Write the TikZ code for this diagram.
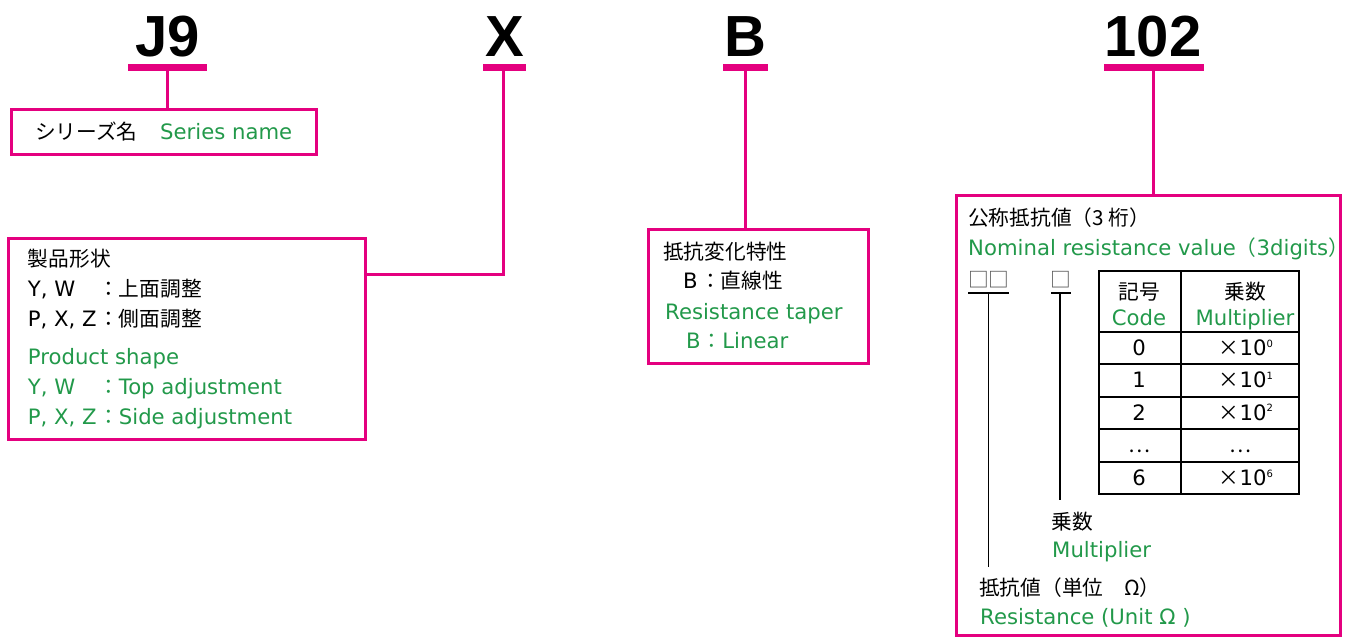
\documentclass[tikz,border=0pt]{standalone}
\usepackage{fontspec}
\setmainfont{DejaVu Sans}
\newfontfamily\jpf{Noto Sans CJK JP}
\newfontfamily\hdf{Liberation Sans}
\newcommand\J[1]{{\jpf\fontsize{20.7}{21}\selectfont #1}}
\newcommand\supr[1]{\raisebox{8.5pt}{\fontsize{10}{10}\selectfont #1}}
\definecolor{mag}{HTML}{E4007F}
\definecolor{grn}{HTML}{22994A}
\begin{document}
\begin{tikzpicture}[x=1pt,y=-1pt,
  hdr/.style={font=\hdf\bfseries\fontsize{58}{58}\selectfont, inner sep=0, anchor=base},
  bar/.style={fill=mag, inner sep=0, minimum height=7pt},
  frame/.style={draw=mag, line width=3pt, inner sep=0, fill=none},
  conn/.style={draw=mag, line width=3pt},
  txt/.style={font=\fontsize{21.2}{21}\selectfont, inner sep=0, anchor=west, text height=18pt, text depth=3pt},
  gtxt/.style={txt, text=grn},
  ctr/.style={anchor=center},
  tbl/.style={draw=black, line width=1.6pt},
  thin/.style={draw=black, line width=1.5pt}
]
\useasboundingbox (0,0) rectangle (1352,639);

% headers
\node[hdr] (hJ) at (168,57) {J9};
\node[hdr] (hX) at (505,57) {X};
\node[hdr] (hB) at (745,57) {B};
\node[hdr] (h1) at (1153,57) {102};
\node[bar, minimum width=79pt] (bJ) at (167.5,67.5) {};
\node[bar, minimum width=43pt] (bX) at (504.5,67.5) {};
\node[bar, minimum width=45pt] (bB) at (745.5,67.5) {};
\node[bar, minimum width=100pt] (b1) at (1153.5,67.5) {};

% frames
\node[frame, minimum width=305pt, minimum height=45pt] (sbox) at (164,132) {};
\node[frame, minimum width=357pt, minimum height=200.4pt] (pbox) at (186.7,339) {};
\node[frame, minimum width=219.7pt, minimum height=134pt] (tbox) at (758.7,296.5) {};
\node[frame, minimum width=384pt, minimum height=440pt] (nbox) at (1148.5,415.5) {};

% connectors
\draw[conn] (bJ.south) -- (bJ.south |- sbox.north);
\coordinate (xk) at (503.5,274);
\draw[conn, line join=miter] (bX.south -| xk) -- (xk) -- (xk -| pbox.east);
\draw[conn] (bB.south) -- (bB.south |- tbox.north);
\draw[conn] (b1.south) -- (b1.south |- nbox.north);

% series box
\node[txt] (s1) at (35,132) {\J{シリーズ名}};
\node[gtxt] (s2) at (160,132) {Series name};

% product box
\node[txt] (p1) at (27.7,259) {\J{製品形状}};
\node[txt] (p2) at (27.7,289) {Y, W};
\node[txt] (p2b) at (98,289) {\J{：上面調整}};
\node[txt] (p3) at (27.7,319) {P, X, Z};
\node[txt] (p3b) at (98,319) {\J{：側面調整}};
\node[gtxt] (p4) at (27.7,357) {Product shape};
\node[gtxt] (p5) at (27.7,387) {Y, W};
\node[gtxt] (p5b) at (98,387) {\J{：}Top adjustment};
\node[gtxt] (p6) at (27.7,417) {P, X, Z};
\node[gtxt] (p6b) at (98,417) {\J{：}Side adjustment};

% taper box
\node[txt] (t1) at (663,251.5) {\J{抵抗変化特性}};
\node[txt] (t2) at (683,281) {B};
\node[txt] (t2b) at (700,281) {\J{：直線性}};
\node[gtxt] (t3) at (665,311.5) {Resistance taper};
\node[gtxt] (t4) at (686,341) {B};
\node[gtxt] (t4b) at (701.5,341) {\J{：}Linear};

% nominal box
\node[txt] (n1) at (968,218) {\J{公称抵抗値（3 桁）}};
\node[gtxt] (n2) at (968,248) {Nominal resistance value\J{（}3digits\J{）}};
\node[txt, text=black!70] (q1) at (968,280) {\J{□□}};
\node[txt, text=black!70] (q2) at (1050,280) {\J{□}};
\draw[thin] (968,293) -- (1009,293);
\draw[thin] (1051,293) -- (1071,293);
\coordinate (v1) at (988.3,293);
\coordinate (v1e) at (988.3,567);
\coordinate (v2) at (1060,293);
\coordinate (v2e) at (1060,500);
\draw[thin] (v1) -- (v1e);
\draw[thin] (v2) -- (v2e);
\node[txt] (m1) at (1051.7,521.7) {\J{乗数}};
\node[gtxt] (m2) at (1052,550) {Multiplier};
\node[txt] (r1) at (979,588) {\J{抵抗値（単位　Ω）}};
\node[gtxt] (r2) at (980,617) {Resistance (Unit Ω )};

% table
\draw[tbl] (1099,271) rectangle (1298.7,494);
\foreach \yy in {331.7,364,396.7,429,461.7} \draw[tbl] (1099,\yy) -- (1298.7,\yy);
\draw[tbl] (1180.7,271) -- (1180.7,494);
\node[txt, ctr] (c1) at (1139,291.7) {\J{記号}};
\node[gtxt, ctr] (c2) at (1139,317.7) {Code};
\node[txt, ctr] (c3) at (1245,291.7) {\J{乗数}};
\node[gtxt, ctr] (c4) at (1245,317.7) {Multiplier};
\node[txt, ctr] (r0a) at (1139,348) {0};
\node[txt, ctr] (r1a) at (1139,380) {1};
\node[txt, ctr] (r2a) at (1139,412.5) {2};
\node[txt, ctr] (r3a) at (1139,445) {\J{⋯}};
\node[txt, ctr] (r4a) at (1139,478) {6};
\node[txt, ctr] (r0b) at (1246,348) {\J{×}10\supr{0}};
\node[txt, ctr] (r1b) at (1246,380) {\J{×}10\supr{1}};
\node[txt, ctr] (r2b) at (1246,412.5) {\J{×}10\supr{2}};
\node[txt, ctr] (r3b) at (1240,445) {\J{⋯}};
\node[txt, ctr] (r4b) at (1246,478) {\J{×}10\supr{6}};
\end{tikzpicture}
\end{document}
